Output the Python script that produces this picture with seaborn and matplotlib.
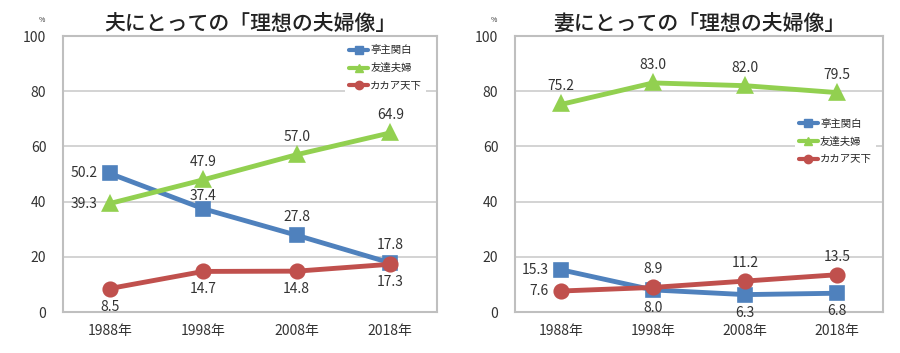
import numpy as np
import pandas as pd
import matplotlib
matplotlib.use("Agg")
import matplotlib.pyplot as plt
from matplotlib.lines import Line2D
import seaborn as sns

# data
years = ["1988年", "1998年", "2008年", "2018年"]
series_names = ["亭主関白", "友達夫婦", "カカア天下"]

husband_teishu = [50.2, 37.4, 27.8, 17.8]
husband_tomodachi = [39.3, 47.9, 57.0, 64.9]
husband_kakaa = [8.5, 14.7, 14.8, 17.3]

wife_teishu = [15.3, 8.0, 6.3, 6.8]
wife_tomodachi = [75.2, 83.0, 82.0, 79.5]
wife_kakaa = [7.6, 8.9, 11.2, 13.5]

titles = ["夫にとっての「理想の夫婦像」", "妻にとっての「理想の夫婦像」"]

colors = {"亭主関白": "#4F81BD", "友達夫婦": "#92D050", "カカア天下": "#C0504D"}
markers = {"亭主関白": "s", "友達夫婦": "^", "カカア天下": "o"}

sns.set_theme(style="white")
plt.rcParams["font.family"] = ["Noto Sans CJK JP", "DejaVu Sans"]


def make_df(a, b, c):
    rows = []
    for name, vals in zip(series_names, [a, b, c]):
        for y, v in zip(years, vals):
            rows.append({"year": y, "value": v, "type": name})
    return pd.DataFrame(rows)


dfH = make_df(husband_teishu, husband_tomodachi, husband_kakaa)
dfW = make_df(wife_teishu, wife_tomodachi, wife_kakaa)

# label placement: L = left of point, U = above, u = just above, D = below
label_pos = [
    {"亭主関白": "LuUU", "友達夫婦": "LUUU", "カカア天下": "DDDD"},
    {"亭主関白": "LDDD", "友達夫婦": "UUUU", "カカア天下": "LUUU"},
]
offsets = {"L": ((-9, 0), "right"), "U": ((0, 13), "center"),
           "u": ((0, 9), "center"), "D": ((0, -13), "center")}
legend_anchor = [(0.985, 1.0), (0.995, 0.735)]

fig = plt.figure(figsize=(9, 3.53), dpi=100)
axes = [fig.add_axes([63/900, 41/353, 374/900, 276/353]),
        fig.add_axes([515/900, 41/353, 368/900, 276/353])]

for i, (ax, df) in enumerate(zip(axes, [dfH, dfW])):
    sns.pointplot(data=df, x="year", y="value", hue="type", order=years,
                  hue_order=series_names, palette=colors,
                  markers=[markers[n] for n in series_names],
                  linestyles="-", errorbar=None, ax=ax, legend=False,
                  markersize=9, linewidth=3.5)
    ax.set_xlim(-0.5, 3.5)
    ax.set_ylim(0, 100)
    ax.set_yticks([0, 20, 40, 60, 80, 100])
    ax.yaxis.grid(True, color="#C8C8C8", linewidth=1.1)
    ax.set_axisbelow(True)
    for s in ax.spines.values():
        s.set_color("#BFBFBF")
        s.set_linewidth(1.5)
    ax.tick_params(axis="both", length=0, labelsize=10, colors="#333333")
    ax.tick_params(axis="y", pad=12)
    ax.tick_params(axis="x", pad=9)
    ax.set_xlabel("")
    ax.set_ylabel("")
    ax.set_title(titles[i], fontsize=15, fontweight="medium", color="#222222", pad=4)
    ax.text(-0.056, 1.058, "%", transform=ax.transAxes, fontsize=5,
            ha="center", va="center", color="#333333")

    # value labels
    for name in series_names:
        sub = df[df["type"] == name]
        for j, v in enumerate(sub["value"]):
            off, ha = offsets[label_pos[i][name][j]]
            ax.annotate(f"{v:.1f}", (j, v), xytext=off, textcoords="offset points",
                        ha=ha, va="center", fontsize=10, color="#333333")

    handles = [Line2D([0], [0], color=colors[n], marker=markers[n], markersize=6,
                      linewidth=3) for n in series_names]
    ax.legend(handles, series_names, loc="upper right",
              bbox_to_anchor=legend_anchor[i], fontsize=7.5,
              frameon=True, facecolor="white", edgecolor="none",
              framealpha=1, fancybox=False, handlelength=1.8,
              handletextpad=0.2, labelspacing=0.75, borderpad=0.4)

fig.savefig("out.png", dpi=100)
